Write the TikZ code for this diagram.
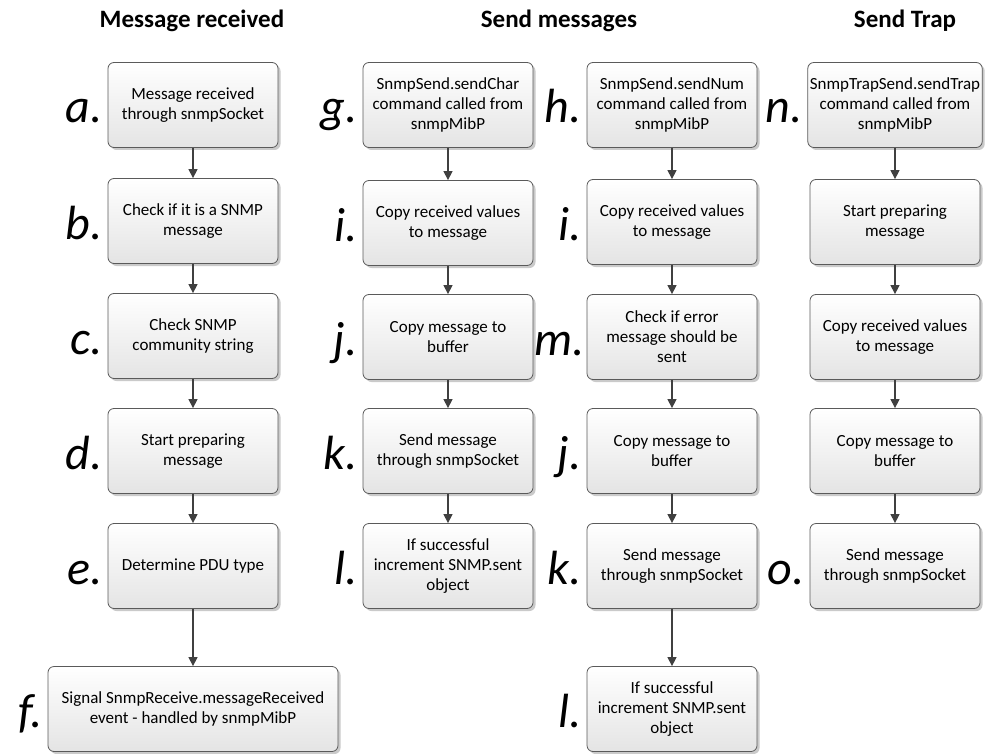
\documentclass[tikz,border=0pt]{standalone}
\usepackage{fontspec}
\setmainfont{Carlito}
\usetikzlibrary{shadows,arrows.meta}
\definecolor{boxline}{HTML}{5A5A5A}
\definecolor{boxbot}{HTML}{E4E4E4}
\definecolor{arrowcol}{HTML}{404040}
\tikzset{
  stepbox/.style={draw=boxline, line width=0.8pt, rounded corners=6pt,
    minimum width=170pt, minimum height=85pt, inner sep=2pt,
    top color=white, bottom color=boxbot, align=center,
    font=\fontsize{17}{20}\selectfont,
    drop shadow={shadow xshift=2.5pt, shadow yshift=-2.5pt, opacity=0.35, fill=black!60}},
  widebox/.style={stepbox, minimum width=290pt},
  steplabel/.style={anchor=base east, font=\fontsize{48}{48}\selectfont\itshape, inner sep=0pt},
  heading/.style={anchor=base, font=\fontsize{25}{25}\selectfont\bfseries, inner sep=0pt},
  arr/.style={draw=arrowcol, line width=1.3pt, -{Triangle[length=9pt,width=9pt]}, color=arrowcol}
}
\begin{document}
\begin{tikzpicture}[x=1pt,y=-1pt]
\useasboundingbox (0,0) rectangle (995,754);

% column headings
\node[heading] (h1) at (192,28) {Message received};
\node[heading] (h2) at (559,28) {Send messages};
\node[heading] (h3) at (905,28) {Send Trap};

% message received
\node[stepbox] (a) at (193,105) {Message received\\through snmpSocket};
\node[stepbox] (b) at (193,221) {Check if it is a SNMP\\message};
\node[stepbox] (c) at (193,336) {Check SNMP\\community string};
\node[stepbox] (d) at (193,451) {Start preparing\\message};
\node[stepbox] (e) at (193,566) {Determine PDU type};
\node[widebox] (f) at (193,709) {Signal SnmpReceive.messageReceived\\event - handled by snmpMibP};

% send char
\node[stepbox] (g) at (448,105) {SnmpSend.sendChar\\command called from\\snmpMibP};
\node[stepbox] (gi) at (448,223) {Copy received values\\to message};
\node[stepbox] (gj) at (448,337) {Copy message to\\buffer};
\node[stepbox] (gk) at (448,451) {Send message\\through snmpSocket};
\node[stepbox] (gl) at (448,566) {If successful\\increment SNMP.sent\\object};

% send num
\node[stepbox] (h) at (672,105) {SnmpSend.sendNum\\command called from\\snmpMibP};
\node[stepbox] (hi) at (672,222) {Copy received values\\to message};
\node[stepbox] (hm) at (672,337) {Check if error\\message should be\\sent};
\node[stepbox] (hj) at (672,451) {Copy message to\\buffer};
\node[stepbox] (hk) at (672,566) {Send message\\through snmpSocket};
\node[stepbox] (hl) at (672,709) {If successful\\increment SNMP.sent\\object};

% send trap
\node[stepbox] (n) at (895,105) {SnmpTrapSend.sendTrap\\command called from\\snmpMibP};
\node[stepbox] (n2) at (895,222) {Start preparing\\message};
\node[stepbox] (n3) at (895,337) {Copy received values\\to message};
\node[stepbox] (n4) at (895,451) {Copy message to\\buffer};
\node[stepbox] (o) at (895,566) {Send message\\through snmpSocket};

% step letters
\node[steplabel] (la) at ([xshift=-5pt,yshift=-18pt]a.west) {a.};
\node[steplabel] (lb) at ([xshift=-5pt,yshift=-18pt]b.west) {b.};
\node[steplabel] (lc) at ([xshift=-5pt,yshift=-18pt]c.west) {c.};
\node[steplabel] (ld) at ([xshift=-5pt,yshift=-18pt]d.west) {d.};
\node[steplabel] (le) at ([xshift=-5pt,yshift=-18pt]e.west) {e.};
\node[steplabel] (lf) at ([xshift=-5pt,yshift=-18pt]f.west) {f.};
\node[steplabel] (lg) at ([xshift=-5pt,yshift=-18pt]g.west) {g.};
\node[steplabel] (lgi) at ([xshift=-5pt,yshift=-18pt]gi.west) {i.};
\node[steplabel] (lgj) at ([xshift=-5pt,yshift=-18pt]gj.west) {j.};
\node[steplabel] (lgk) at ([xshift=-5pt,yshift=-18pt]gk.west) {k.};
\node[steplabel] (lgl) at ([xshift=-5pt,yshift=-18pt]gl.west) {l.};
\node[steplabel] (lh) at ([xshift=-5pt,yshift=-18pt]h.west) {h.};
\node[steplabel] (lhi) at ([xshift=-5pt,yshift=-18pt]hi.west) {i.};
\node[steplabel] (lhm) at ([xshift=-2pt,yshift=-18pt]hm.west) {m.};
\node[steplabel] (lhj) at ([xshift=-5pt,yshift=-18pt]hj.west) {j.};
\node[steplabel] (lhk) at ([xshift=-5pt,yshift=-18pt]hk.west) {k.};
\node[steplabel] (lhl) at ([xshift=-5pt,yshift=-18pt]hl.west) {l.};
\node[steplabel] (ln) at ([xshift=-5pt,yshift=-18pt]n.west) {n.};
\node[steplabel] (lo) at ([xshift=-5pt,yshift=-18pt]o.west) {o.};

% connectors
\draw[arr] (a) -- (b);
\draw[arr] (b) -- (c);
\draw[arr] (c) -- (d);
\draw[arr] (d) -- (e);
\draw[arr] (e) -- (f);
\draw[arr] (g) -- (gi);
\draw[arr] (gi) -- (gj);
\draw[arr] (gj) -- (gk);
\draw[arr] (gk) -- (gl);
\draw[arr] (h) -- (hi);
\draw[arr] (hi) -- (hm);
\draw[arr] (hm) -- (hj);
\draw[arr] (hj) -- (hk);
\draw[arr] (hk) -- (hl);
\draw[arr] (n) -- (n2);
\draw[arr] (n2) -- (n3);
\draw[arr] (n3) -- (n4);
\draw[arr] (n4) -- (o);
\end{tikzpicture}
\end{document}
